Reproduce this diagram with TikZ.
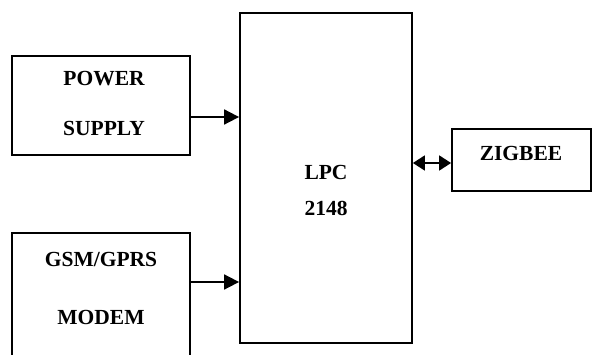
\documentclass[tikz,border=0pt]{standalone}
\usepackage{fontspec}
\setmainfont{Liberation Serif}
\usetikzlibrary{arrows.meta,calc}
\begin{document}
\begin{tikzpicture}[x=1pt,y=-1pt,
  blk/.style={draw,line width=1.8pt,inner sep=0pt},
  lbl/.style={anchor=base,inner sep=0pt,font=\fontsize{21.5}{24}\selectfont\bfseries},
  arr/.style={line width=1.8pt,-{Triangle[length=15pt,width=15pt]}},
  darr/.style={line width=1.8pt,{Triangle[length=12pt,width=15pt]}-{Triangle[length=12pt,width=15pt]}}]
\useasboundingbox (0,0) rectangle (594,355);
\clip (0,0) rectangle (594,355);
\node[blk,minimum width=178pt,minimum height=99pt] (pwr) at (101,105.5) {};
\node[blk,minimum width=178pt,minimum height=150pt] (gsm) at (101,308) {};
\node[blk,minimum width=172pt,minimum height=330pt] (lpc) at (326,178) {};
\node[blk,minimum width=139pt,minimum height=62pt] (zig) at (521.5,160) {};
\node[lbl] (t1) at (104,86) {POWER};
\node[lbl] (t2) at (104,136) {SUPPLY};
\node[lbl] (t3) at (101,266) {GSM/GPRS};
\node[lbl] (t4) at (101,324) {MODEM};
\node[lbl] (t5) at (326,180) {LPC};
\node[lbl] (t6) at (326,216) {2148};
\node[lbl] (t7) at (521,161) {ZIGBEE};
\draw[arr] ([yshift=-11.5pt]pwr.east) -- ([yshift=-11.5pt]pwr.east -| lpc.west);
\draw[arr] (gsm.east |- 0,282) -- (lpc.west |- 0,282);
\draw[darr] (lpc.east |- 0,163) -- (zig.west |- 0,163);
\end{tikzpicture}
\end{document}
